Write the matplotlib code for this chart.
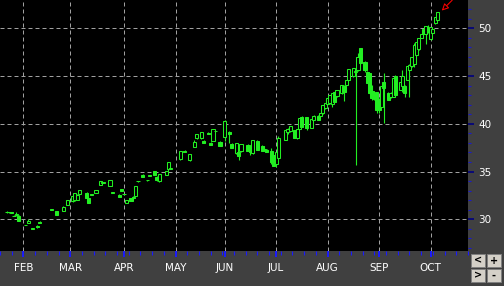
import numpy as np
import matplotlib
matplotlib.use('Agg')
import matplotlib.pyplot as plt
from matplotlib.patches import Rectangle

# daily bars, 2010 (weekdays only on the x axis)
dates = ['2010-01-21', '2010-01-22', '2010-01-25', '2010-01-26', '2010-01-27', '2010-01-28',
         '2010-02-02', '2010-02-03', '2010-02-05', '2010-02-09', '2010-02-10', '2010-02-17',
         '2010-02-19', '2010-02-24', '2010-02-26', '2010-03-02', '2010-03-03', '2010-03-04',
         '2010-03-05', '2010-03-10', '2010-03-11', '2010-03-12', '2010-03-16', '2010-03-18',
         '2010-03-19', '2010-03-24', '2010-03-25', '2010-03-30', '2010-03-31', '2010-04-01',
         '2010-04-02', '2010-04-06', '2010-04-07', '2010-04-08', '2010-04-09', '2010-04-13',
         '2010-04-15', '2010-04-16', '2010-04-20', '2010-04-21', '2010-04-22', '2010-04-27',
         '2010-04-28', '2010-04-29', '2010-05-05', '2010-05-07', '2010-05-11', '2010-05-13',
         '2010-05-14', '2010-05-18', '2010-05-19', '2010-05-21', '2010-05-24', '2010-05-25',
         '2010-05-26', '2010-05-28', '2010-06-01', '2010-06-03', '2010-06-04', '2010-06-08',
         '2010-06-09', '2010-06-10', '2010-06-15', '2010-06-16', '2010-06-17', '2010-06-21',
         '2010-06-23', '2010-06-24', '2010-06-25', '2010-06-29', '2010-06-30', '2010-07-01',
         '2010-07-02', '2010-07-07', '2010-07-08', '2010-07-09', '2010-07-13', '2010-07-14',
         '2010-07-15', '2010-07-16', '2010-07-20', '2010-07-22', '2010-07-23', '2010-07-27',
         '2010-07-28', '2010-07-29', '2010-07-30', '2010-08-02', '2010-08-03', '2010-08-04',
         '2010-08-05', '2010-08-06', '2010-08-10', '2010-08-11', '2010-08-12', '2010-08-13',
         '2010-08-17', '2010-08-18', '2010-08-19', '2010-08-20', '2010-08-24', '2010-08-25',
         '2010-08-26', '2010-08-27', '2010-08-30', '2010-08-31', '2010-09-01', '2010-09-02',
         '2010-09-03', '2010-09-07', '2010-09-08', '2010-09-09', '2010-09-10', '2010-09-14',
         '2010-09-15', '2010-09-16', '2010-09-17', '2010-09-20', '2010-09-21', '2010-09-22',
         '2010-09-23', '2010-09-24', '2010-09-27', '2010-09-28', '2010-09-29', '2010-09-30',
         '2010-10-01', '2010-10-04', '2010-10-05', '2010-10-06']

opens = [30.80, 30.75, 30.72, 30.35, 30.45, 30.30, 29.40, 29.65, 29.00, 29.30, 29.75, 31.00,
         30.85, 30.90, 31.50, 31.90, 32.00, 32.05, 32.70, 32.80, 32.20, 32.60, 32.80, 33.60,
         33.85, 33.50, 32.80, 32.55, 33.15, 32.60, 31.75, 32.20, 32.35, 32.45, 34.00, 34.65,
         34.10, 34.55, 35.05, 34.45, 34.00, 34.65, 35.30, 35.30, 36.30, 37.20, 36.20, 37.60,
         38.50, 38.50, 38.20, 39.05, 38.00, 38.20, 39.20, 38.10, 38.60, 39.10, 37.90, 36.90,
         37.00, 37.10, 37.80, 37.35, 36.90, 38.20, 37.70, 37.40, 37.30, 37.20, 36.70, 35.80,
         36.40, 38.30, 39.10, 39.20, 39.30, 38.50, 39.50, 40.75, 40.70, 39.60, 40.40, 40.85,
         40.85, 41.10, 41.60, 42.10, 42.15, 42.10, 43.35, 42.90, 43.20, 44.00, 44.05, 44.60,
         45.00, 45.40, 45.60, 47.90, 46.50, 45.45, 45.30, 43.40, 42.90, 43.30, 42.20, 41.80,
         44.40, 43.25, 42.80, 42.85, 45.00, 43.55, 44.00, 44.00, 44.60, 45.60, 46.00, 46.30,
         47.20, 47.80, 49.00, 49.90, 49.40, 50.00, 48.85, 49.55, 50.50, 50.90]

highs = [30.85, 30.80, 30.75, 30.40, 30.75, 30.45, 29.45, 30.00, 29.05, 29.35, 29.80, 31.05,
         30.90, 31.35, 32.05, 32.45, 32.75, 32.60, 33.05, 32.85, 32.25, 32.65, 33.05, 34.00,
         33.90, 34.10, 32.85, 32.60, 33.20, 32.65, 32.00, 32.25, 32.40, 33.50, 34.05, 34.70,
         34.15, 34.60, 35.10, 34.50, 34.75, 35.05, 36.00, 35.35, 37.10, 37.25, 36.85, 38.30,
         38.90, 39.10, 38.25, 39.10, 38.05, 39.45, 39.25, 38.15, 40.40, 39.20, 37.95, 38.00,
         37.05, 37.90, 37.85, 37.40, 38.30, 38.25, 37.75, 37.65, 37.35, 37.45, 36.75, 37.00,
         38.70, 39.35, 39.60, 39.80, 39.35, 39.50, 40.60, 40.80, 40.75, 40.50, 40.90, 40.90,
         41.10, 42.00, 42.20, 42.70, 43.00, 43.25, 43.40, 43.50, 44.05, 44.05, 44.60, 45.70,
         45.85, 45.60, 47.40, 47.95, 46.55, 45.50, 45.35, 44.05, 43.30, 43.35, 42.70, 44.00,
         45.30, 43.30, 43.30, 44.75, 45.10, 44.40, 45.60, 44.05, 46.00, 46.30, 47.00, 48.50,
         48.60, 48.95, 49.40, 50.00, 50.25, 50.30, 50.10, 49.90, 51.20, 51.75]

lows = [30.70, 30.70, 30.65, 30.30, 30.40, 29.85, 29.35, 29.60, 28.95, 29.10, 29.60, 30.95,
        30.45, 30.85, 31.45, 31.85, 31.95, 32.00, 32.65, 32.25, 31.70, 32.50, 32.75, 33.55,
        33.80, 33.45, 32.75, 32.35, 32.95, 32.55, 31.70, 31.95, 32.20, 32.40, 33.95, 34.45,
        34.05, 34.50, 34.65, 34.00, 33.95, 34.60, 35.05, 35.25, 36.25, 37.00, 36.15, 37.55,
        38.45, 38.45, 37.95, 38.90, 37.80, 38.15, 39.15, 37.70, 38.20, 38.00, 37.50, 36.85,
        36.20, 37.05, 37.20, 36.75, 36.85, 37.25, 37.20, 37.10, 37.05, 35.80, 35.60, 35.50,
        36.30, 38.25, 38.90, 39.15, 38.50, 38.45, 39.45, 39.70, 39.35, 39.55, 40.35, 40.40,
        40.80, 41.05, 41.55, 42.05, 42.10, 41.80, 42.30, 42.85, 43.15, 42.40, 44.00, 44.55,
        44.95, 35.70, 45.55, 46.15, 45.45, 44.25, 43.00, 42.50, 42.50, 41.10, 41.10, 41.70,
        40.10, 42.50, 42.75, 42.80, 42.85, 43.50, 43.35, 42.85, 44.55, 42.85, 45.95, 45.95,
        47.15, 47.75, 48.95, 49.40, 48.40, 49.50, 48.80, 49.50, 50.45, 50.85]

closes = [30.75, 30.72, 30.70, 30.35, 30.60, 29.85, 29.40, 29.80, 29.00, 29.15, 29.60, 31.00,
          30.45, 31.30, 32.00, 32.45, 32.75, 32.55, 33.05, 32.25, 31.75, 32.55, 33.05, 34.00,
          33.85, 34.10, 32.80, 32.35, 32.95, 32.60, 32.00, 31.95, 32.20, 33.50, 34.00, 34.45,
          34.10, 34.55, 34.65, 34.10, 34.75, 35.05, 35.95, 35.30, 37.10, 37.00, 36.85, 38.10,
          38.90, 39.10, 37.95, 38.90, 37.80, 39.45, 39.20, 37.70, 40.30, 38.95, 37.50, 38.00,
          36.60, 37.90, 37.20, 37.00, 38.30, 37.25, 37.20, 37.30, 37.05, 36.00, 35.60, 37.00,
          38.50, 39.35, 39.50, 39.80, 38.50, 39.50, 40.60, 39.70, 39.60, 40.50, 40.85, 40.40,
          41.10, 42.00, 42.15, 42.70, 43.00, 43.20, 42.30, 43.50, 44.05, 43.30, 44.60, 45.70,
          45.80, 45.50, 47.00, 46.35, 45.60, 44.30, 43.20, 42.70, 42.60, 41.40, 41.40, 44.00,
          43.70, 42.50, 43.25, 44.75, 43.00, 44.40, 45.00, 43.20, 46.00, 46.20, 47.00, 48.25,
          48.60, 48.95, 49.40, 49.40, 50.20, 49.60, 50.10, 49.90, 51.20, 51.75]

months = ['FEB', 'MAR', 'APR', 'MAY', 'JUN', 'JUL', 'AUG', 'SEP', 'OCT']
month_starts = ['2010-02-01', '2010-03-01', '2010-04-01', '2010-05-03', '2010-06-01',
                '2010-07-01', '2010-08-02', '2010-09-01', '2010-10-01']
price_ticks = [30, 35, 40, 45, 50]

green = '#22ee22'
panel = '#404040'

origin = np.datetime64('2010-02-01')
x = np.busday_count(origin, np.array(dates, dtype='datetime64[D]'))
mx = np.busday_count(origin, np.array(month_starts, dtype='datetime64[D]'))
mondays = np.arange(np.datetime64('2010-01-18'), np.datetime64('2010-10-26'), 7)
wx = np.busday_count(origin, mondays)

fig = plt.figure(figsize=(5.04, 2.86), dpi=100, facecolor=panel)
ax = fig.add_axes([0, 35 / 286, 468 / 504, 251 / 286])
ax.set_facecolor('black')
for s in ax.spines.values():
    s.set_visible(False)

# grid
for v in price_ticks:
    ax.axhline(v, color='#a0a0a0', lw=0.72, dashes=(4, 3), zorder=1)
for v in mx:
    ax.axvline(v, color='#a0a0a0', lw=0.72, dashes=(4, 3), zorder=1)

# candles
w = 1.35
for xi, o, h, l, c in zip(x, opens, highs, lows, closes):
    ax.plot([xi, xi], [l, h], color=green, lw=0.8, zorder=2, solid_capstyle='butt')
    lo, hi = min(o, c), max(o, c)
    fc = 'black' if c >= o else green
    ax.add_patch(Rectangle((xi - w / 2, lo), w, max(hi - lo, 0.04), facecolor=fc,
                           edgecolor=green, lw=0.75, zorder=3))

ax.set_xlim(-7.62, 187.2)
ax.set_ylim(26.68, 52.96)

ax.yaxis.tick_right()
ax.set_yticks(price_ticks)
ax.set_yticklabels([str(v) for v in price_ticks])
ax.set_yticks(np.arange(27, 53), minor=True)
ax.tick_params(axis='y', which='major', length=4.4, width=1.2, color='#000080',
               labelcolor='white', labelsize=7.5, pad=3)
ax.tick_params(axis='y', which='minor', length=2, width=0.8, color='#1a1ad0')

ax.set_xticks(mx)
ax.set_xticklabels(months)
ax.set_xticks(wx, minor=True)
ax.tick_params(axis='x', which='major', length=4.4, width=1.4, color='#1a1aff',
               labelcolor='white', labelsize=7.5, pad=4)
ax.tick_params(axis='x', which='minor', length=3, width=0.8, color='#1a1aff')

# red marker arrow at the last bar
ax.annotate('', xy=(x[-1] + 1.8, highs[-1] + 0.1), xytext=(7.5, 7.5),
            textcoords='offset points',
            arrowprops=dict(arrowstyle='-|>', ec='red', fc='black', lw=0.75,
                            mutation_scale=10, shrinkA=0, shrinkB=0))

# scroll / zoom buttons
def px(x0, y0, wd, ht):
    return (x0 / 504, 1 - (y0 + ht) / 286), wd / 504, ht / 286

for (bx, by), lab in zip([(471, 254), (487, 254), (471, 269), (487, 269)], ['<', '+', '>', '-']):
    xy, bw, bh = px(bx, by, 14, 13)
    fig.add_artist(Rectangle(xy, bw, bh, transform=fig.transFigure, facecolor='#d4d0c8',
                             edgecolor='#808080', lw=0.7))
    fig.text(xy[0] + bw / 2, xy[1] + bh / 2, lab, ha='center', va='center',
             fontsize=7, color='black', fontweight='bold')

fig.savefig('out.png', dpi=100, facecolor=panel)
